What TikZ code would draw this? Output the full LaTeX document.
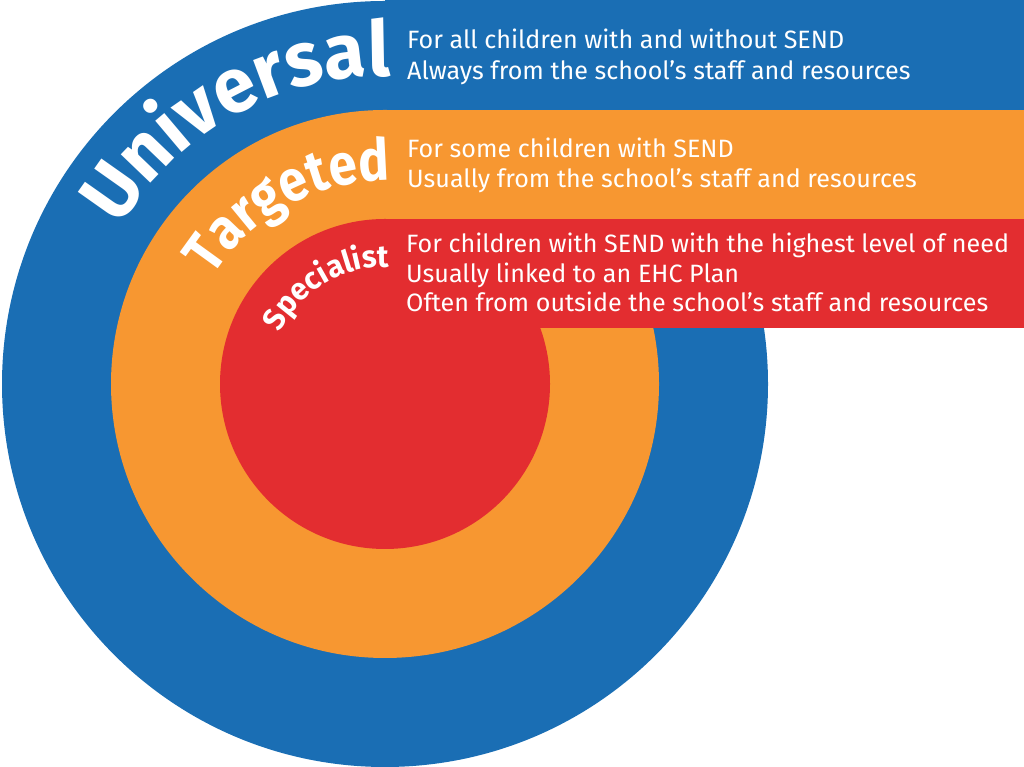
\documentclass[tikz,border=0pt]{standalone}
\usepackage{fontspec}
\setmainfont{Fira Sans}
\newfontfamily\arcfontU{Fira Sans}[FakeStretch=0.98]
\newfontfamily\arcfontT{Fira Sans}[FakeStretch=0.88]
\newfontfamily\arcfontS{Fira Sans}[FakeStretch=0.97]
\usetikzlibrary{decorations.text}
\definecolor{uniblue}{RGB}{26,110,180}
\definecolor{tarorange}{RGB}{247,151,49}
\definecolor{specred}{RGB}{227,45,48}
\tikzset{
  bodytext/.style={anchor=base west, inner sep=0pt, text=white, font=\fontsize{25.1}{30}\selectfont},
  arclabel/.style={decorate, decoration={text along path, text align={right}, text color=white}}
}
\begin{document}
\begin{tikzpicture}[x=1pt,y=1pt]
\useasboundingbox (0,0) rectangle (1024,767);
\coordinate (c) at (385,383);
% blue level
\fill[uniblue] (c) circle[radius=383];
\fill[uniblue] (385,657) rectangle (1024,767);
% orange level
\fill[tarorange] (c) circle[radius=274];
\fill[tarorange] (385,548) rectangle (1024,657);
% red level
\fill[specred] (c) circle[radius=165];
\fill[specred] (385,439) rectangle (1024,548);
% curved titles
\path[arclabel, decoration={text={|\arcfontU\bfseries\fontsize{77}{77}\selectfont|Universal}}]
  (c) ++(175:308) arc[start angle=175, end angle=89, radius=308];
\path[arclabel, decoration={text={|\arcfontT\bfseries\fontsize{58}{58}\selectfont|Targeted}}]
  (c) ++(179:203) arc[start angle=179, end angle=88.5, radius=203];
\path[arclabel, decoration={text={|\arcfontS\bfseries\fontsize{31}{31}\selectfont|Specialist}}]
  (c) ++(179:117) arc[start angle=179, end angle=88, radius=117];
% descriptions
\node[bodytext] (u1) at (407,718) {For all children with and without SEND};
\node[bodytext] (u2) at (407,687) {Always from the school’s staff and resources};
\node[bodytext] (t1) at (407,609) {For some children with SEND};
\node[bodytext] (t2) at (407,579) {Usually from the school’s staff and resources};
\node[bodytext] (s1) at (406,514) {For children with SEND with the highest level of need};
\node[bodytext] (s2) at (406,484) {Usually linked to an EHC Plan};
\node[bodytext] (s3) at (406,455) {Often from outside the school’s staff and resources};
\end{tikzpicture}
\end{document}
